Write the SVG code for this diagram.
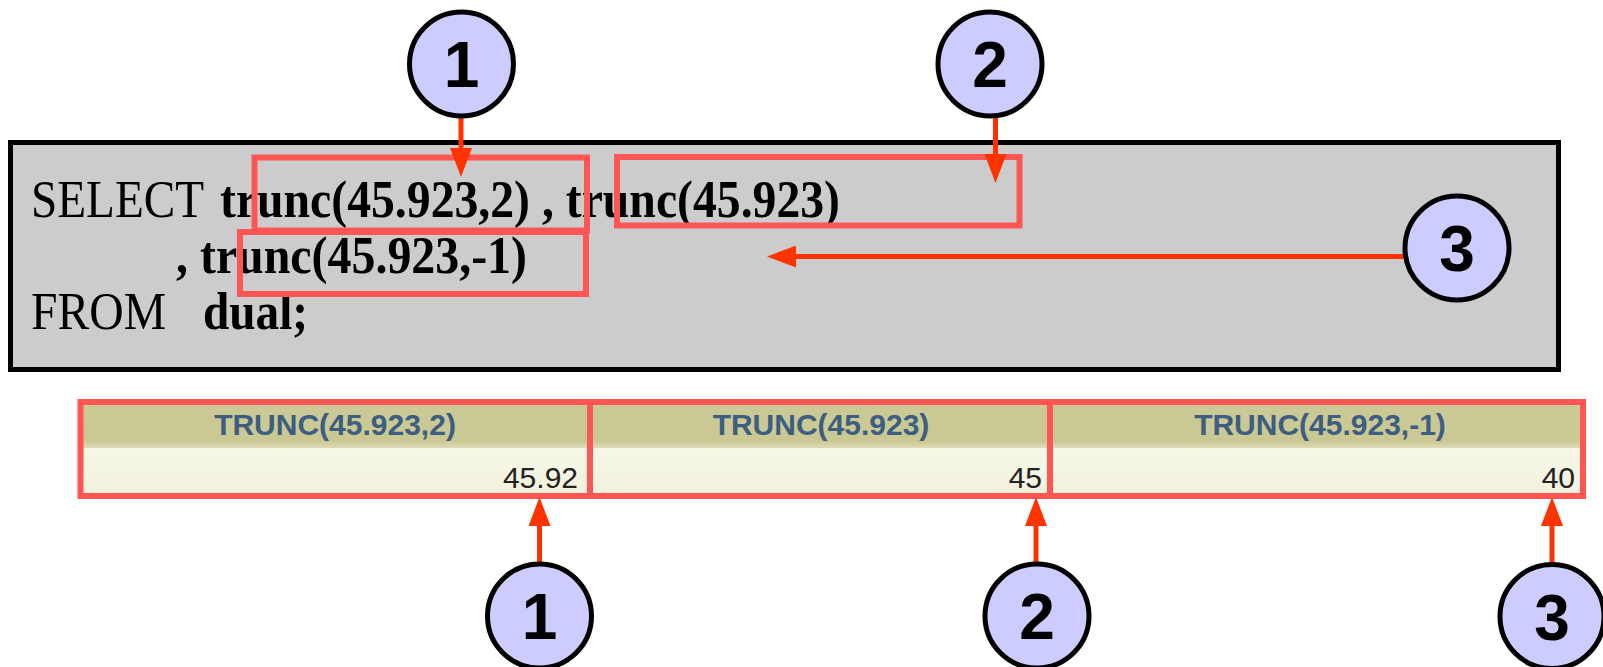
<svg xmlns="http://www.w3.org/2000/svg" width="1603" height="667" viewBox="0 0 1603 667">
  <style>
    .sql { font-family: "Liberation Serif", "Times New Roman", serif; font-size: 53px; fill: #000; }
    .b { font-weight: bold; }
    .hl { fill: none; stroke: #ff5555; stroke-width: 6; }
    .conn { stroke: #ff3300; stroke-width: 5; fill: none; marker-end: url(#ah); }
    .callout circle { fill: #ccccff; stroke: #000; stroke-width: 5; }
    .callout text { font-family: "Liberation Sans", Arial, sans-serif; font-weight: bold; font-size: 64px; fill: #000; text-anchor: middle; }
    .hdr { font-family: "Liberation Sans", Arial, sans-serif; font-weight: bold; font-size: 30px; fill: #3d5e80; text-anchor: middle; }
    .val { font-family: "Liberation Sans", Arial, sans-serif; font-size: 30px; fill: #222; text-anchor: end; }
  </style>
  <defs>
    <marker id="ah" markerUnits="userSpaceOnUse" markerWidth="30" markerHeight="22" refX="0" refY="11" orient="auto">
      <path d="M0,0 L29,11 L0,22 Z" fill="#ff3300"/>
    </marker>
    <linearGradient id="hdrGrad" x1="0" y1="0" x2="0" y2="1">
      <stop offset="0" stop-color="#cbca97"/>
      <stop offset="0.85" stop-color="#cac893"/>
      <stop offset="1" stop-color="#dcdcb8"/>
    </linearGradient>
    <linearGradient id="rowGrad" x1="0" y1="0" x2="0" y2="1">
      <stop offset="0" stop-color="#f7f7e8"/>
      <stop offset="1" stop-color="#f1f1dc"/>
    </linearGradient>
  </defs>

  <g id="sql-box">
    <rect x="10.5" y="142.5" width="1548" height="227" fill="#cccccc" stroke="#000" stroke-width="5"/>
    <text class="sql" x="31" y="217" textLength="173" lengthAdjust="spacingAndGlyphs">SELECT</text>
    <text class="sql b" x="220" y="217" textLength="620" lengthAdjust="spacingAndGlyphs">trunc(45.923,2) , trunc(45.923)</text>
    <text class="sql b" x="176" y="273" textLength="351" lengthAdjust="spacingAndGlyphs">, trunc(45.923,-1)</text>
    <text class="sql" x="31" y="329" textLength="135" lengthAdjust="spacingAndGlyphs">FROM</text>
    <text class="sql b" x="203" y="329" textLength="105" lengthAdjust="spacingAndGlyphs">dual;</text>
    <rect id="hl-1" class="hl" x="254.5" y="157.5" width="332.5" height="73"/>
    <rect id="hl-2" class="hl" x="617" y="157" width="402.5" height="68.5"/>
    <rect id="hl-3" class="hl" x="240" y="232" width="346" height="62"/>
  </g>

  <g id="result-table">
    <rect x="80.5" y="402" width="1502.5" height="46" fill="url(#hdrGrad)"/>
    <rect x="80.5" y="448" width="1502.5" height="48" fill="url(#rowGrad)"/>
    <text class="hdr" x="335" y="435">TRUNC(45.923,2)</text>
    <text class="hdr" x="821" y="435">TRUNC(45.923)</text>
    <text class="hdr" x="1320" y="435">TRUNC(45.923,-1)</text>
    <text class="val" x="578" y="488">45.92</text>
    <text class="val" x="1042" y="488">45</text>
    <text class="val" x="1575" y="488">40</text>
    <rect class="hl" x="80.5" y="402" width="509.5" height="94"/>
    <rect class="hl" x="590" y="402" width="460" height="94"/>
    <rect class="hl" x="1050" y="402" width="533" height="94"/>
  </g>

  <g id="connectors">
    <line class="conn" x1="461" y1="117" x2="461" y2="148"/>
    <line class="conn" x1="995.5" y1="117" x2="995.5" y2="154"/>
    <line class="conn" x1="1406" y1="256.5" x2="796" y2="256.5"/>
    <line class="conn" x1="539.5" y1="563" x2="539.5" y2="526"/>
    <line class="conn" x1="1036" y1="563" x2="1036" y2="526"/>
    <line class="conn" x1="1552" y1="563" x2="1552" y2="526"/>
  </g>

  <g id="callout-top-1" class="callout">
    <circle cx="461.5" cy="64" r="52"/>
    <text x="461.5" y="87">1</text>
  </g>
  <g id="callout-top-2" class="callout">
    <circle cx="990" cy="64" r="52"/>
    <text x="990" y="87">2</text>
  </g>
  <g id="callout-top-3" class="callout">
    <circle cx="1457" cy="248" r="52"/>
    <text x="1457" y="271">3</text>
  </g>
  <g id="callout-bottom-1" class="callout">
    <circle cx="539.5" cy="616" r="52"/>
    <text x="539.5" y="639">1</text>
  </g>
  <g id="callout-bottom-2" class="callout">
    <circle cx="1037" cy="616" r="52"/>
    <text x="1037" y="639">2</text>
  </g>
  <g id="callout-bottom-3" class="callout">
    <circle cx="1552" cy="616.5" r="52"/>
    <text x="1552" y="639.5">3</text>
  </g>
</svg>
